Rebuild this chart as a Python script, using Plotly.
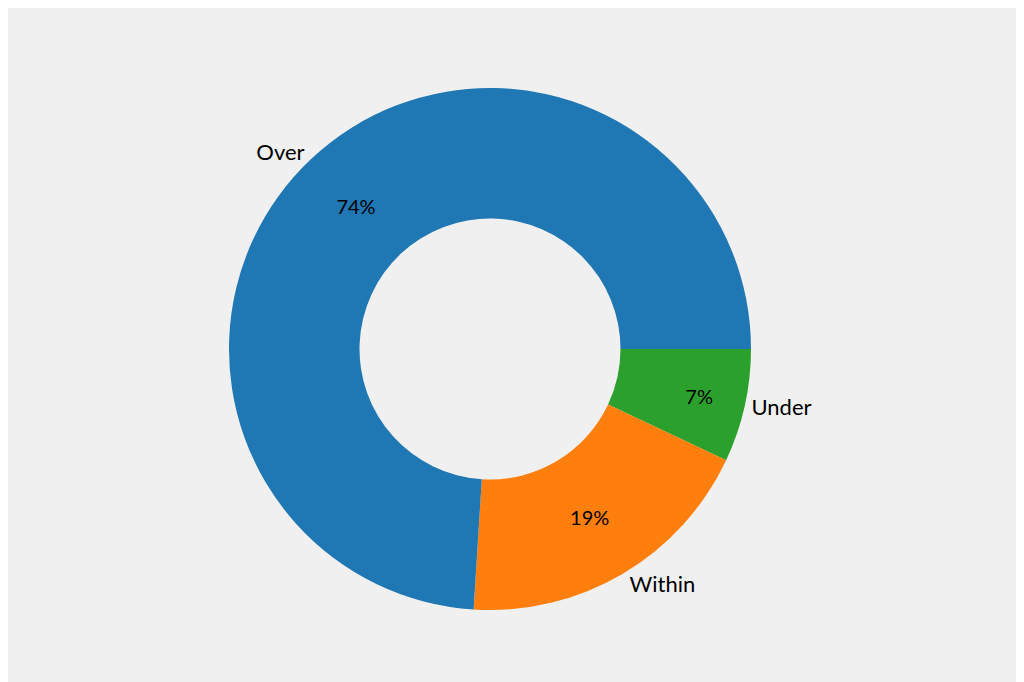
import plotly.graph_objects as go

labels = ["Over", "Within", "Under"]
values = [74, 19, 7]
colors = ["#1f77b4", "#ff7f0e", "#2ca02c"]

# plotly draws clockwise from the start angle, so feed the slices reversed
r_labels = labels[::-1]
r_values = values[::-1]
r_colors = colors[::-1]

fig = go.Figure()
fig.add_trace(go.Pie(
    labels=r_labels, values=r_values, sort=False, direction="clockwise",
    rotation=90, hole=0.5, marker=dict(colors=r_colors),
    texttemplate="%{percent:.0%}", textposition="inside", insidetextorientation="horizontal",
    textfont=dict(color="black", size=20), showlegend=False,
))
fig.add_trace(go.Pie(
    labels=r_labels, values=r_values, sort=False, direction="clockwise",
    rotation=90, hole=0.99, marker=dict(colors=["rgba(0,0,0,0)"] * 3),
    texttemplate="%{label}", textposition="outside",
    textfont=dict(color="black", size=22), showlegend=False,
))
fig.update_layout(
    width=1024, height=682,
    paper_bgcolor="#f0f0f0", plot_bgcolor="#f0f0f0",
    font=dict(family="Lato, sans-serif"),
    margin=dict(l=0, r=0, t=80, b=80),
)
fig.write_html("out.html")
